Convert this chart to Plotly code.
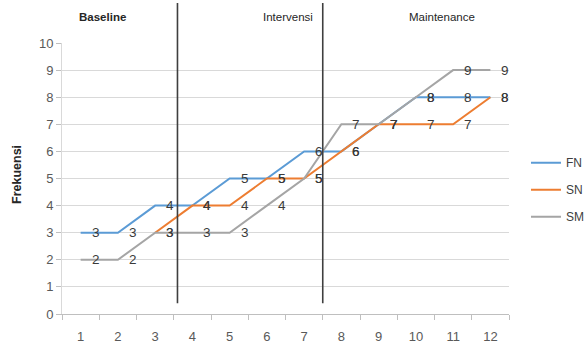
import plotly.graph_objects as go

# Sessions (x categories) and frequency per subject
sessions = list(range(1, 13))
fn = [3, 3, 4, 4, 5, 5, 6, 6, 7, 8, 8, 8]
sn = [None, None, 3, 4, 4, 5, 5, 6, 7, 7, 7, 8]
sm = [2, 2, 3, 3, 3, 4, 5, 7, 7, 8, 9, 9]

phase_names = ["Baseline", "Intervensi", "Maintenance"]
phase_breaks = [3.6, 7.5]  # session positions of the phase dividers
y_title = "Frekuensi"

FONT = "Liberation Sans"
X_RANGE = [0.5, 12.5]
Y_RANGE = [0, 10]

series = [
    ("FN", fn, "#5B9BD5"),
    ("SN", sn, "#ED7D31"),
    ("SM", sm, "#A5A5A5"),
]

fig = go.Figure()
for name, vals, color in series:
    fig.add_trace(go.Scatter(
        x=sessions, y=vals, name=name, mode="lines",
        line=dict(color=color, width=2), legendgroup=name,
    ))

# Value labels to the right of every point
annotations = []
for name, vals, color in series:
    for s, v in zip(sessions, vals):
        if v is None:
            continue
        annotations.append(dict(
            x=s, y=v, xref="x", yref="y", text=str(v), showarrow=False,
            xshift=15, xanchor="center", yanchor="middle",
            font=dict(family=FONT, size=13.5, color="#3a3a3a"),
        ))


def to_paper_x(xv):
    return (xv - X_RANGE[0]) / (X_RANGE[1] - X_RANGE[0])


# Phase divider lines
shapes = []
for b in phase_breaks:
    px = to_paper_x(b)
    shapes.append(dict(
        type="line", xref="paper", yref="paper",
        x0=px, x1=px, y0=0.04, y1=1.148,
        line=dict(color="#3f3f3f", width=1.6),
    ))

# Phase titles
phase_x = [0.0895, 0.5056, 0.849]
for i, (name, px) in enumerate(zip(phase_names, phase_x)):
    annotations.append(dict(
        x=px, y=1.096, xref="paper", yref="paper", text=f"<b>{name}</b>" if i == 0 else name,
        showarrow=False, xanchor="center", yanchor="middle",
        font=dict(family=FONT, size=11.5, color="#262626"),
    ))

# Y axis title
annotations.append(dict(
    x=-0.1007, y=0.5166, xref="paper", yref="paper", text=f"<b>{y_title}</b>",
    showarrow=False, textangle=-90, xanchor="center", yanchor="middle",
    font=dict(family=FONT, size=12.5, color="#262626"),
))

fig.update_layout(
    width=587, height=343,
    margin=dict(l=62, r=78, t=43, b=29, autoexpand=False),
    paper_bgcolor="white", plot_bgcolor="white",
    font=dict(family=FONT, size=13, color="#595959"),
    showlegend=True,
    legend=dict(
        x=1.038, y=0.612, xanchor="left", yanchor="top",
        traceorder="grouped", tracegroupgap=8,
        font=dict(family=FONT, size=12, color="#404040"),
        bgcolor="rgba(0,0,0,0)",
    ),
    xaxis=dict(
        range=X_RANGE, tickmode="array", tickvals=sessions,
        ticks="", showgrid=False, zeroline=False,
        showline=True, linecolor="#bfbfbf", linewidth=1,
        ticklabelstandoff=10,
        tickfont=dict(family=FONT, size=13, color="#595959"),
        minor=dict(tickmode="linear", tick0=0.5, dtick=1, ticks="outside",
                   ticklen=5, tickcolor="#bfbfbf", showgrid=False),
    ),
    yaxis=dict(
        range=Y_RANGE, dtick=1, showgrid=True, gridcolor="#d9d9d9", gridwidth=1.3,
        zeroline=False, showline=True, linecolor="#d9d9d9", linewidth=1,
        ticks="outside", ticklen=5, tickcolor="#bfbfbf",
        tickfont=dict(family=FONT, size=13, color="#595959"),
    ),
    shapes=shapes,
    annotations=annotations,
)

fig.write_html("out.html")
